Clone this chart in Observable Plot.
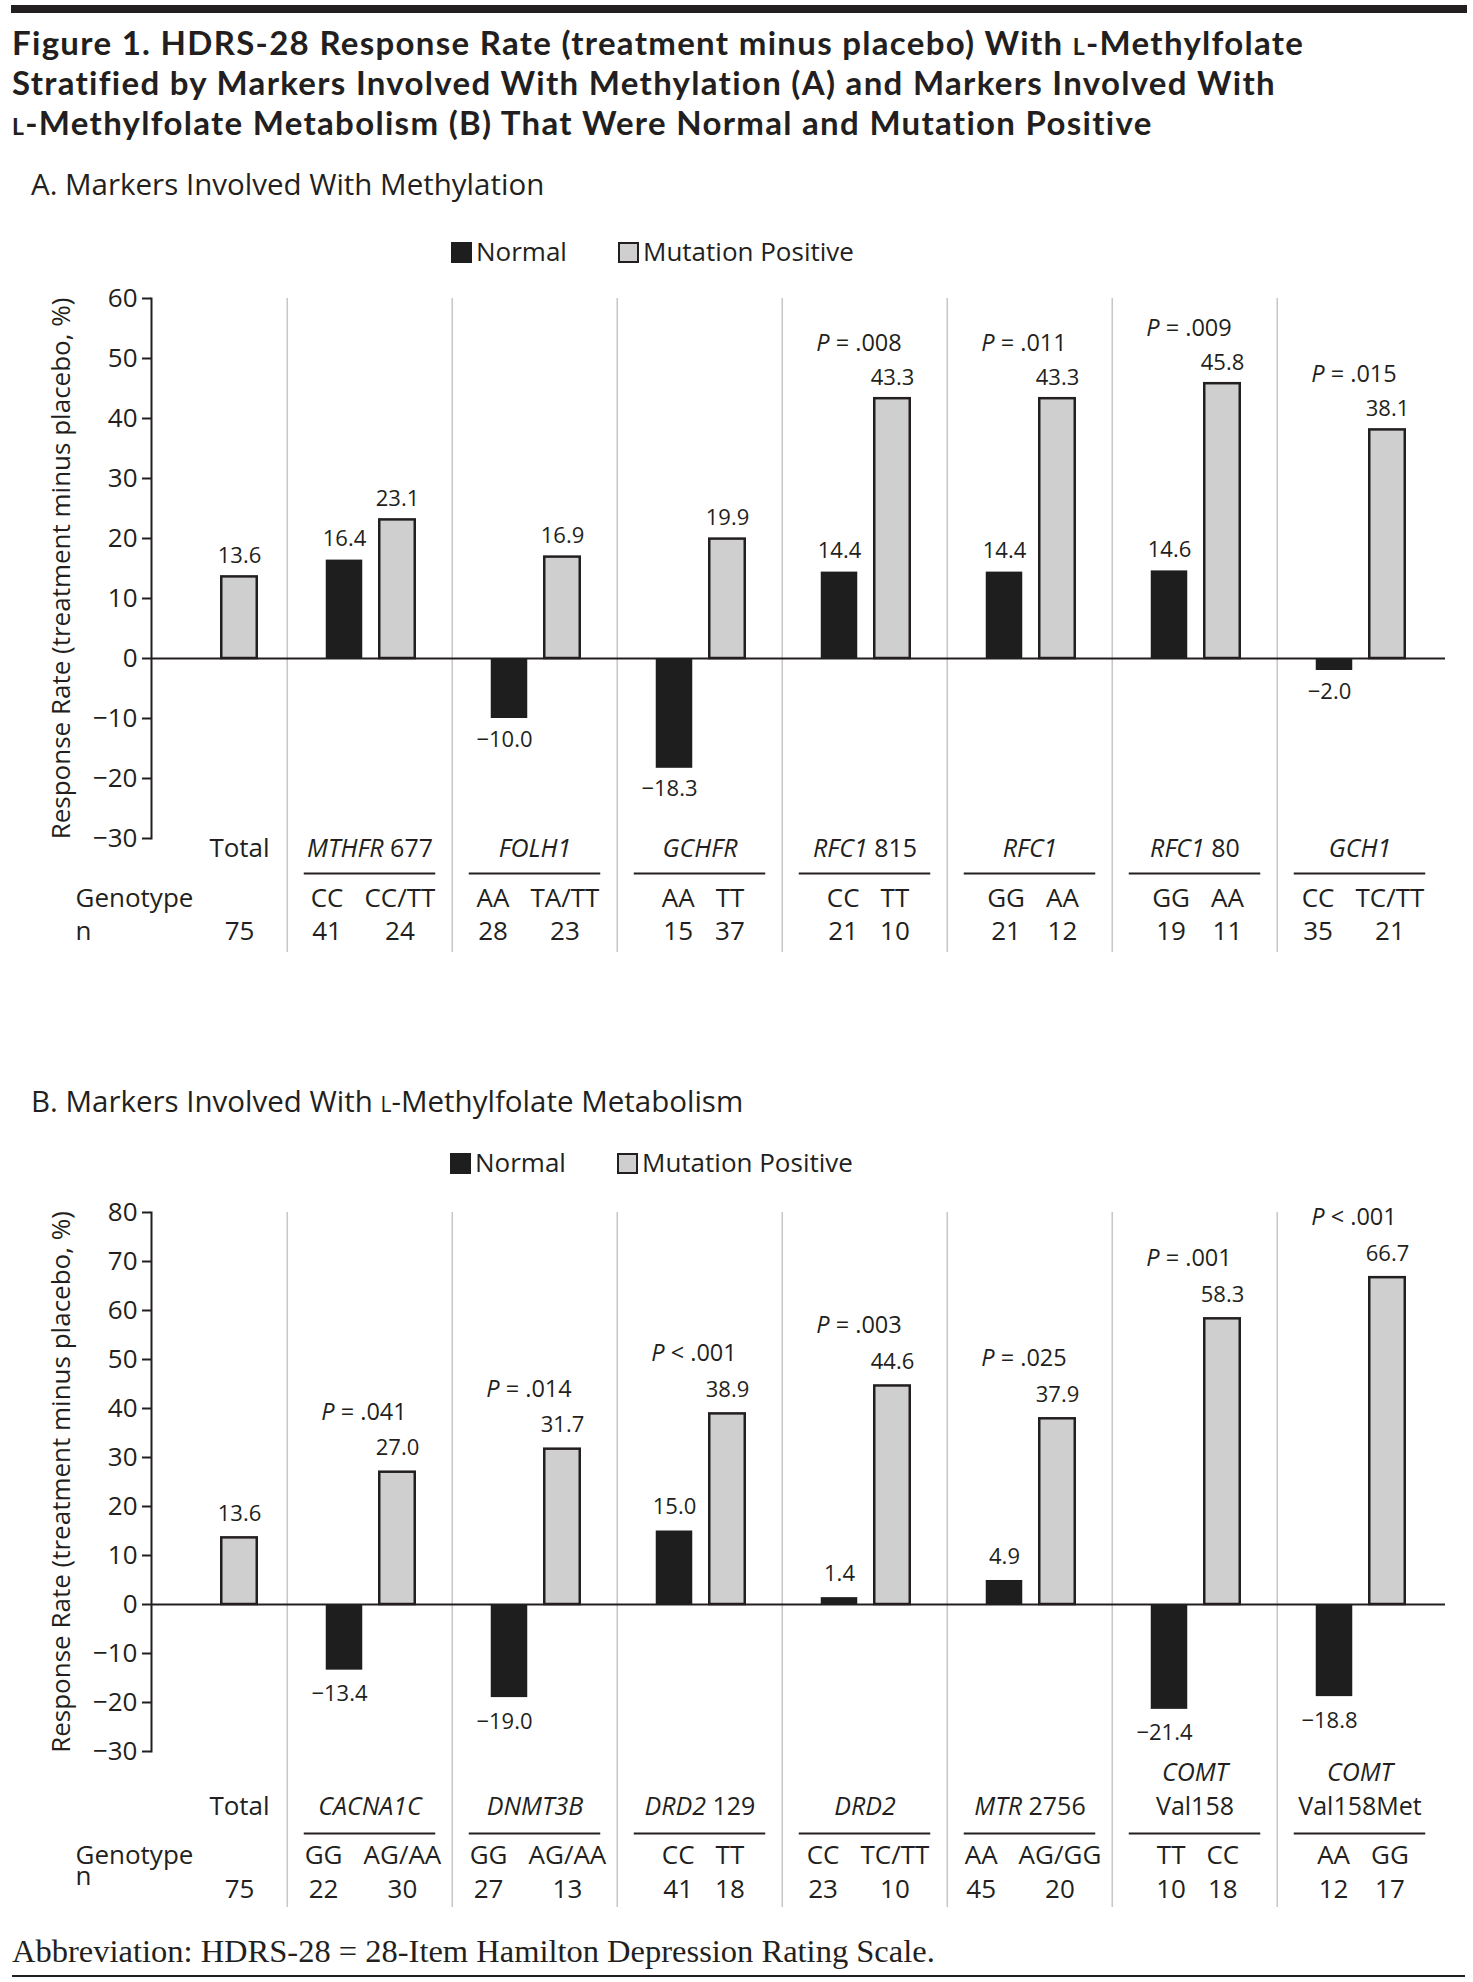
<!DOCTYPE html>
<html>
<head>
<meta charset="utf-8">
<script src="https://cdn.jsdelivr.net/npm/d3@7"></script>
<script src="https://cdn.jsdelivr.net/npm/@observablehq/plot@0.6"></script>
<style>
  body { margin: 0; background: #fff; }
  #page { position: relative; width: 1473px; height: 1982px; overflow: hidden; color: #231f20; font-family: "Open Sans", sans-serif; background: #fff; }
  .abs { position: absolute; white-space: nowrap; }
  .topbar { left: 11px; top: 5px; width: 1456px; height: 8px; background: #231f20; }
  .title { left: 12px; top: 22px; font-family: Lato, sans-serif; font-weight: 700; font-size: 33px; line-height: 40px; letter-spacing: 1.3px; }
  .sc { font-variant: small-caps; }
  .heading { left: 31px; font-size: 29.5px; line-height: 36px; }
  .sw.n { width: 19px; height: 19px; background: #1e1e1e; border: 1px solid #1e1e1e; }
  .sw.m { background: #cfcfcf; border: 2px solid #231f20; width: 17px; height: 17px; }
  .leg { font-size: 26px; line-height: 36px; }
  .foot { left: 12px; top: 1933px; font-family: "Liberation Serif", serif; font-size: 32.5px; line-height: 37px; }
  .botrule { left: 12px; top: 1975px; width: 1453px; height: 2px; background: #231f20; }
  svg { position: absolute; left: 0; overflow: visible; }
</style>
</head>
<body>
<div id="page">
  <div class="abs topbar"></div>
  <div class="abs title">
    <div>Figure 1. HDRS-28 Response Rate (treatment minus placebo) With <span class="sc">l</span>-Methylfolate</div>
    <div>Stratified by Markers Involved With Methylation (A) and Markers Involved With</div>
    <div><span class="sc">l</span>-Methylfolate Metabolism (B) That Were Normal and Mutation Positive</div>
  </div>

  <div class="abs heading" style="top:166px">A. Markers Involved With Methylation</div>
  <div class="abs sw n" style="left:451px; top:242px"></div>
  <div class="abs leg" style="left:476px; top:233px">Normal</div>
  <div class="abs sw m" style="left:618px; top:242px"></div>
  <div class="abs leg" style="left:643px; top:233px">Mutation Positive</div>

  <div class="abs heading" style="top:1083px">B. Markers Involved With <span class="sc">l</span>-Methylfolate Metabolism</div>
  <div class="abs sw n" style="left:450px; top:1153px"></div>
  <div class="abs leg" style="left:475px; top:1144px">Normal</div>
  <div class="abs sw m" style="left:617px; top:1153px"></div>
  <div class="abs leg" style="left:642px; top:1144px">Mutation Positive</div>

  <div class="abs foot">Abbreviation: HDRS-28 = 28-Item Hamilton Depression Rating Scale.</div>
  <div class="abs botrule"></div>
</div>
<script>
// ---------- Panel A data ----------
const markersA = ["Total", "MTHFR 677", "FOLH1", "GCHFR", "RFC1 815", "RFC1", "RFC1 80", "GCH1"];
const geneLabelsA = ["Total", "*MTHFR* 677", "*FOLH1*", "*GCHFR*", "*RFC1* 815", "*RFC1*", "*RFC1* 80", "*GCH1*"];
const geneTopA = ["", "", "", "", "", "", "", ""];
const normalA = [null, 16.4, -10.0, -18.3, 14.4, 14.4, 14.6, -2.0];
const mutationA = [13.6, 23.1, 16.9, 19.9, 43.3, 43.3, 45.8, 38.1];
const genoNormalA = ["", "CC", "AA", "AA", "CC", "GG", "GG", "CC"];
const genoMutationA = ["", "CC/TT", "TA/TT", "TT", "TT", "AA", "AA", "TC/TT"];
const nNormalA = [null, 41, 28, 15, 21, 21, 19, 35];
const nMutationA = [75, 24, 23, 37, 10, 12, 11, 21];
const pValuesA = ["", "", "", "", "*P* = .008", "*P* = .011", "*P* = .009", "*P* = .015"];
const yTicksA = [-30, -20, -10, 0, 10, 20, 30, 40, 50, 60];

// ---------- Panel B data ----------
const markersB = ["Total", "CACNA1C", "DNMT3B", "DRD2 129", "DRD2", "MTR 2756", "COMT Val158", "COMT Val158Met"];
const geneLabelsB = ["Total", "*CACNA1C*", "*DNMT3B*", "*DRD2* 129", "*DRD2*", "*MTR* 2756", "Val158", "Val158Met"];
const geneTopB = ["", "", "", "", "", "", "*COMT*", "*COMT*"];
const normalB = [null, -13.4, -19.0, 15.0, 1.4, 4.9, -21.4, -18.8];
const mutationB = [13.6, 27.0, 31.7, 38.9, 44.6, 37.9, 58.3, 66.7];
const genoNormalB = ["", "GG", "GG", "CC", "CC", "AA", "TT", "AA"];
const genoMutationB = ["", "AG/AA", "AG/AA", "TT", "TC/TT", "AG/GG", "CC", "GG"];
const nNormalB = [null, 22, 27, 41, 23, 45, 10, 12];
const nMutationB = [75, 30, 13, 18, 10, 20, 18, 17];
const pValuesB = ["", "*P* = .041", "*P* = .014", "*P* < .001", "*P* = .003", "*P* = .025", "*P* = .001", "*P* < .001"];
const yTicksB = [-30, -20, -10, 0, 10, 20, 30, 40, 50, 60, 70, 80];

const yLabel = "Response Rate (treatment minus placebo, %)";
const ink = "#231f20";

function buildPanel(cfg) {
  const xRange = [120, 1444];
  const bw = (xRange[1] - xRange[0]) / cfg.markers.length;
  const yMin = cfg.yTicks[0], yMax = cfg.yTicks[cfg.yTicks.length - 1];
  const rows = cfg.markers.map((cat, i) => ({
    cat, gene: cfg.geneLabels[i], top: cfg.geneTop[i],
    normal: cfg.normal[i], mut: cfg.mutation[i],
    gN: cfg.genoN[i], gM: cfg.genoM[i],
    nN: cfg.nN[i] == null ? "" : String(cfg.nN[i]), nM: String(cfg.nM[i]),
    p: cfg.pvals[i]
  }));
  const total = rows.filter(r => r.normal == null);
  const pairs = rows.filter(r => r.normal != null);
  const fmt = d3.format(".1f");
  const off = cfg.off;
  const nC = -25.5, mC = 27.5, tC = 34.5;

  const svg = Plot.plot({
    width: 1473, height: cfg.height,
    marginTop: cfg.marginTop, marginBottom: cfg.marginBottom,
    marginLeft: 151, marginRight: 28,
    style: { fontFamily: "'Open Sans', sans-serif", fontSize: "26px", color: ink, background: "transparent", overflow: "visible" },
    x: { domain: cfg.markers, range: xRange, padding: 0, axis: null },
    y: { domain: [yMin, yMax], axis: null },
    marks: [
      Plot.ruleX(cfg.markers.slice(1), { dx: -bw / 2, stroke: "#c8c8c8", strokeWidth: 1.6, insetBottom: -off.divider }),
      Plot.ruleY([0], { stroke: ink, strokeWidth: 2 }),
      Plot.frame({ anchor: "left", stroke: ink, strokeWidth: 2 }),
      Plot.axisY({
        ticks: cfg.yTicks, tickSize: 9, tickPadding: 5, tickFormat: d3.format("d"),
        label: yLabel, labelAnchor: "center", labelOffset: 100, labelArrow: "none",
        strokeWidth: 2, fontSize: 26
      }),
      Plot.barY(pairs, { x: "cat", y: "normal", fill: "#1e1e1e", insetLeft: bw / 2 - 44, insetRight: bw / 2 + 7 }),
      Plot.barY(pairs, { x: "cat", y: "mut", fill: "#cfcfcf", stroke: ink, strokeWidth: 2.5, insetLeft: bw / 2 + 9.5, insetRight: bw / 2 - 45.5 }),
      Plot.barY(total, { x: "cat", y: "mut", fill: "#cfcfcf", stroke: ink, strokeWidth: 2.5, insetLeft: bw / 2 + 16.5, insetRight: bw / 2 - 52.5 }),
      // value labels
      Plot.text(pairs.filter(r => r.normal >= 0), { x: "cat", y: "normal", text: r => fmt(r.normal), dx: nC, dy: -off.value, fontSize: 22 }),
      Plot.text(pairs.filter(r => r.normal < 0), { x: "cat", y: "normal", text: r => fmt(r.normal), dx: nC - 5, dy: off.value, fontSize: 22 }),
      Plot.text(pairs, { x: "cat", y: "mut", text: r => fmt(r.mut), dx: mC, dy: -off.value, fontSize: 22 }),
      Plot.text(total, { x: "cat", y: "mut", text: r => fmt(r.mut), dx: tC, dy: -off.value, fontSize: 22 }),
      Plot.text(pairs.filter(r => r.p), { x: "cat", y: "mut", text: "p", dx: -6, dy: -off.p, fontSize: 23.5, ariaDescription: "rich" }),
      // category labels under the frame
      Plot.text(pairs, { x: "cat", text: "gene", frameAnchor: "bottom", dy: off.gene, fontSize: 25, ariaDescription: "rich" }),
      Plot.text(pairs.filter(r => r.top), { x: "cat", text: "top", frameAnchor: "bottom", dy: off.geneTop, fontSize: 25, ariaDescription: "rich" }),
      Plot.text(total, { x: "cat", text: "gene", frameAnchor: "bottom", dx: tC, dy: off.gene, fontSize: 26 }),
      Plot.tickY(pairs, { x: "cat", y: () => yMin, dy: off.underline, insetLeft: bw / 2 - 66, insetRight: bw / 2 - 66, stroke: ink, strokeWidth: 2 }),
      Plot.text(pairs, { x: "cat", text: "gN", frameAnchor: "bottom", dy: off.geno, fontSize: 26, ariaDescription: "genoN" }),
      Plot.text(pairs, { x: "cat", text: "gM", frameAnchor: "bottom", dy: off.geno, fontSize: 26, ariaDescription: "genoM" }),
      Plot.text(pairs, { x: "cat", text: "nN", frameAnchor: "bottom", dy: off.n, fontSize: 26, ariaDescription: "nN" }),
      Plot.text(pairs, { x: "cat", text: "nM", frameAnchor: "bottom", dy: off.n, fontSize: 26, ariaDescription: "nM" }),
      Plot.text(total, { x: "cat", text: "nM", frameAnchor: "bottom", dx: tC, dy: off.n, fontSize: 26 }),
      Plot.text(["Genotype"], { frameAnchor: "bottom-left", textAnchor: "start", dx: -76, dy: off.geno, fontSize: 26 }),
      Plot.text(["n"], { frameAnchor: "bottom-left", textAnchor: "start", dx: -76, dy: off.nLabel, fontSize: 26 })
    ]
  });
  svg.style.top = cfg.top + "px";
  document.getElementById("page").appendChild(svg);

  // rich text: *italic* segments
  d3.select(svg).selectAll('g[aria-description="rich"] text').each(function () {
    const s = this.textContent;
    const t = d3.select(this);
    t.text(null);
    s.split("*").forEach((seg, k) => {
      if (seg) t.append("tspan").attr("font-style", k % 2 ? "italic" : null).text(seg);
    });
  });

  // align genotype / n pairs as one centred row
  const sel = l => d3.select(svg).selectAll(`g[aria-description="${l}"] text`).nodes();
  const gN = sel("genoN"), gM = sel("genoM"), nNn = sel("nN"), nMn = sel("nM");
  const move = (el, s) => el && el.setAttribute("transform", (el.getAttribute("transform") || "") + ` translate(${s},0)`);
  const gap = 21, shift = 3;
  gN.forEach((el, i) => {
    const wN = el.getComputedTextLength(), wM = gM[i].getComputedTextLength();
    const W = wN + gap + wM;
    const sN = -W / 2 + wN / 2 + shift, sM = W / 2 - wM / 2 + shift;
    move(el, sN); move(nNn[i], sN); move(gM[i], sM); move(nMn[i], sM);
  });
}

buildPanel({
  markers: markersA, geneLabels: geneLabelsA, geneTop: geneTopA,
  normal: normalA, mutation: mutationA, genoN: genoNormalA, genoM: genoMutationA,
  nN: nNormalA, nM: nMutationA, pvals: pValuesA, yTicks: yTicksA,
  top: 270, height: 700, marginTop: 28, marginBottom: 132,
  off: { value: 21, p: 55, gene: 18, geneTop: 0, underline: 35, geno: 68, n: 101, nLabel: 101, divider: 114 }
});
buildPanel({
  markers: markersB, geneLabels: geneLabelsB, geneTop: geneTopB,
  normal: normalB, mutation: mutationB, genoN: genoNormalB, genoM: genoMutationB,
  nN: nNormalB, nM: nMutationB, pvals: pValuesB, yTicks: yTicksB,
  top: 1190, height: 740, marginTop: 22, marginBottom: 179,
  off: { value: 24, p: 60, gene: 63, geneTop: 29, underline: 82, geno: 112, n: 146, nLabel: 133, divider: 156 }
});
</script>
</body>
</html>
